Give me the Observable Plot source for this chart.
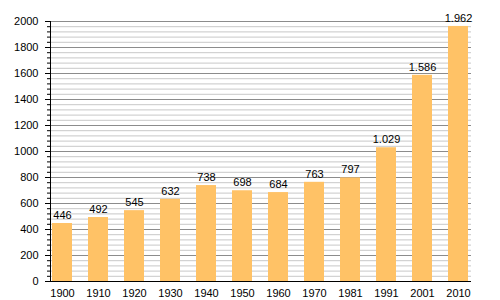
<!DOCTYPE html>
<html>
<head>
<meta charset="utf-8">
<script src="https://cdn.jsdelivr.net/npm/d3@7"></script>
<script src="https://cdn.jsdelivr.net/npm/@observablehq/plot@0.6"></script>
<style>
  html, body { margin: 0; padding: 0; background: #fff; }
  #chart svg { display: block; }
</style>
</head>
<body>
<div id="chart"></div>
<script>
const years = ["1900","1910","1920","1930","1940","1950","1960","1970","1981","1991","2001","2010"];
const population = [446, 492, 545, 632, 738, 698, 684, 763, 797, 1029, 1586, 1962];
const majorTicks = [0, 200, 400, 600, 800, 1000, 1200, 1400, 1600, 1800, 2000];
const minorTicks = d3.range(0, 2001, 40);

const data = years.map((y, i) => ({year: y, value: population[i]}));
const fmt = v => v >= 1000 ? d3.format(",")(v).replace(/,/g, ".") : String(v);

const chart = Plot.plot({
  width: 500,
  height: 300,
  marginLeft: 50,
  marginRight: 29,
  marginTop: 21,
  marginBottom: 19,
  style: {fontFamily: "'Liberation Sans', Arial, sans-serif", fontSize: "11px", color: "#000", background: "#fff"},
  x: {domain: years, paddingInner: 0.44, paddingOuter: 0.03, label: null},
  y: {domain: [0, 2000], label: null},
  marks: [
    Plot.ruleY(minorTicks, {stroke: "#c8c8c8", strokeWidth: 1, strokeOpacity: 1}),
    Plot.ruleY(majorTicks, {stroke: "#8c8c8c", strokeWidth: 1, strokeOpacity: 1}),
    Plot.barY(data, {x: "year", y: "value", fill: "#ffc266"}),
    Plot.text(data, {x: "year", y: "value", text: d => fmt(d.value), dy: -8, fill: "#000", fontSize: 11}),
    Plot.axisY({ticks: minorTicks, tickSize: 3, text: null, stroke: "#000", strokeOpacity: 1}),
    Plot.axisY({ticks: majorTicks, tickSize: 5, tickPadding: 7, tickFormat: d => String(d), stroke: "#000", strokeOpacity: 1, fill: "#000", fontSize: 11, label: null}),
    Plot.axisX({tickSize: 0, tickPadding: 8, fill: "#000", fontSize: 11, label: null}),
    Plot.frame({anchor: "left", stroke: "#000"}),
    Plot.ruleY([0], {stroke: "#000", strokeWidth: 1.2})
  ]
});
document.getElementById("chart").appendChild(chart);
</script>
</body>
</html>
